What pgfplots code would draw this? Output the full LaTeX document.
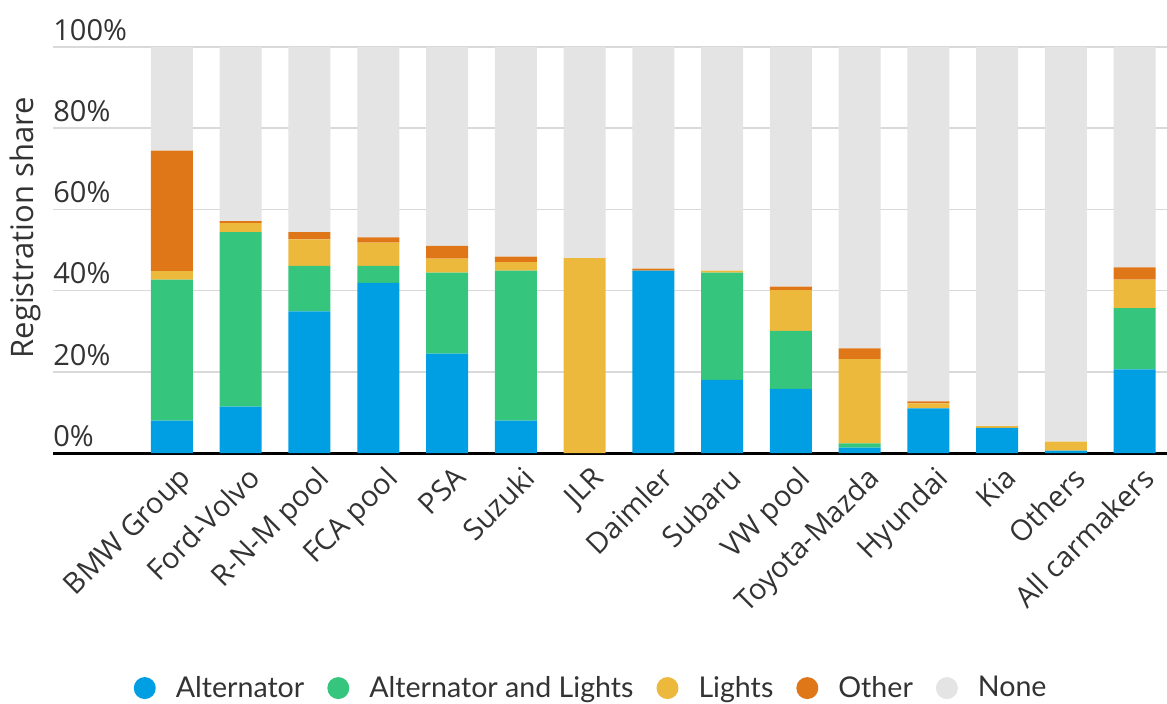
\documentclass[border=0pt]{standalone}
\usepackage{fontspec}
\setmainfont{Open Sans}
\newfontfamily\legfont{Lato}
\usepackage{pgfplots}
\usepackage{pgfplotstable}
\pgfplotsset{compat=1.18}

\definecolor{altc}{HTML}{009FE3}
\definecolor{altlc}{HTML}{36C57D}
\definecolor{lightc}{HTML}{EDB93D}
\definecolor{otherc}{HTML}{DF7718}
\definecolor{nonec}{HTML}{E4E4E4}
\definecolor{gridc}{HTML}{D9D9D9}
\definecolor{txt}{HTML}{333333}

% shares in %
\pgfplotstableread{
idx name              alt   altl  lights other none
0   {BMW Group}       8.0   34.7  2.1    29.7  25.5
1   {Ford-Volvo}      11.4  43.0  2.2    0.5   42.9
2   {R-N-M pool}      34.9  11.2  6.5    1.8   45.6
3   {FCA pool}        41.9  4.2   5.7    1.3   46.9
4   {PSA}             24.5  19.9  3.5    3.1   49.0
5   {Suzuki}          8.0   36.9  2.1    1.4   51.6
6   {JLR}             0.0   0.0   48.0   0.0   52.0
7   {Daimler}         44.9  0.0   0.0    0.5   54.6
8   {Subaru}          18.0  26.4  0.5    0.0   55.1
9   {VW pool}         15.8  14.3  10.0   0.9   59.0
10  {Toyota-Mazda}    1.3   1.1   20.7   2.7   74.2
11  {Hyundai}         11.0  0.0   1.2    0.5   87.3
12  {Kia}             6.2   0.0   0.4    0.0   93.4
13  {Others}          0.6   0.0   2.2    0.0   97.2
14  {All carmakers}   20.6  15.1  7.0    3.0   54.3
}\datatable

\begin{document}
\begin{tikzpicture}
\begin{axis}[
  at={(0,0)}, anchor=south west,
  scale only axis,
  width=557pt, height=203pt,
  ybar stacked,
  bar width=21pt,
  xmin=-1.73, xmax=14.47,
  ymin=0, ymax=100,
  xtick=data,
  xticklabels from table={\datatable}{name},
  ytick={0,20,40,60,80,100},
  yticklabels={0\%,20\%,40\%,60\%,80\%,100\%},
  major tick length=0pt,
  axis x line=bottom,
  axis y line=left,
  x axis line style={line width=1.5pt, black, -},
  y axis line style={draw=none},
  ymajorgrids,
  grid style={gridc, line width=0.8pt},
  tick label style={font=\fontsize{14.5}{17}\selectfont, text=txt},
  xticklabel style={rotate=45, anchor=north east, inner sep=2pt, yshift=-4pt},
  yticklabel style={anchor=south west, inner sep=0pt, yshift=3pt},
  ylabel={Registration share},
  ylabel style={font=\fontsize{15.5}{18}\selectfont, text=txt, at={(-0.025,0.555)}, anchor=center},
  legend columns=5,
  legend style={
    at={(0.484,-0.579)}, anchor=center,
    draw=none, fill=none,
    font=\legfont\fontsize{14.3}{16}\selectfont, text=txt,
    /tikz/every odd column/.append style={column sep=8pt},
    /tikz/every even column/.append style={column sep=9.5pt},
  },
  legend image code/.code={\fill[#1, draw=none] (0.1cm,0cm) circle (5.5pt);},
  clip=false,
]
\addplot+[fill=altc, draw=none] table[x=idx, y=alt] {\datatable};
\addlegendentry{Alternator}
\addplot+[fill=altlc, draw=none] table[x=idx, y=altl] {\datatable};
\addlegendentry{Alternator and Lights}
\addplot+[fill=lightc, draw=none] table[x=idx, y=lights] {\datatable};
\addlegendentry{Lights}
\addplot+[fill=otherc, draw=none] table[x=idx, y=other] {\datatable};
\addlegendentry{Other}
\addplot+[fill=nonec, draw=none] table[x=idx, y=none] {\datatable};
\addlegendentry{None}
\end{axis}
\pgfresetboundingbox
\path (-26.5pt,-125pt) rectangle (557pt,226.5pt);
\end{tikzpicture}
\end{document}
